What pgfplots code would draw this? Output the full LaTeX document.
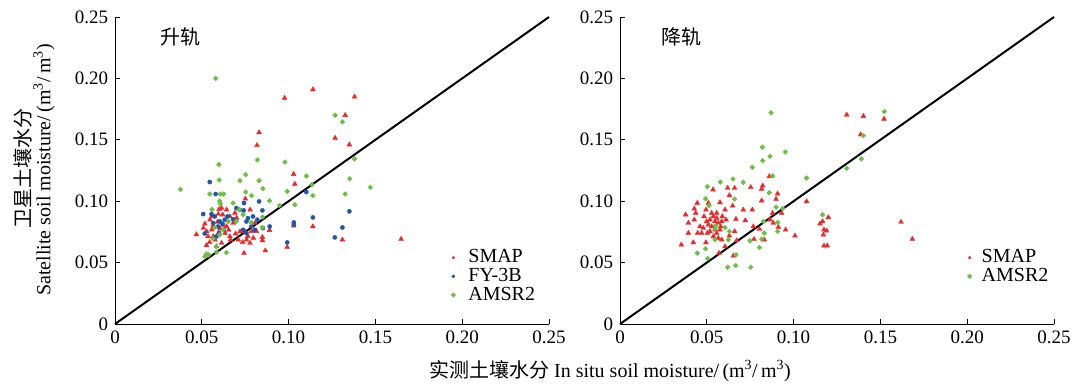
\documentclass[border=0pt]{standalone}
\usepackage{pgfplots}
\pgfplotsset{compat=1.18}
\usepackage{fontspec}
\setmainfont{Liberation Serif}
\newfontfamily\cjk{Noto Sans CJK SC}
\definecolor{cred}{RGB}{236,40,40}
\definecolor{cblue}{RGB}{32,86,168}
\definecolor{cgreen}{RGB}{110,190,70}

\pgfplotstableread{
x y
0.0977 0.184
0.114 0.191
0.138 0.185
0.1326 0.170
0.1268 0.1515
0.135 0.146
0.083 0.156
0.0818 0.1455
0.1029 0.122
0.1036 0.114
0.0751 0.102
0.103 0.080
0.114 0.0794
0.131 0.0686
0.1648 0.0691
0.0992 0.0626
0.0866 0.0598
0.089 0.0764
0.0849 0.0707
0.0849 0.068
0.0743 0.0577
0.0469 0.0729
0.0527 0.064
0.0518 0.0816
0.0547 0.0849
0.0557 0.0767
0.0536 0.0713
0.0576 0.0686
0.0595 0.074
0.0614 0.0944
0.062 0.089
0.0643 0.093
0.0662 0.0876
0.0681 0.0822
0.0643 0.0794
0.0634 0.074
0.0662 0.0713
0.0614 0.0659
0.0585 0.0631
0.071 0.0686
0.072 0.0753
0.0758 0.0686
0.0749 0.0753
0.0778 0.0659
0.0797 0.07
0.0557 0.0876
0.0509 0.0781
0.0528 0.0753
0.0566 0.0713
0.0691 0.0904
0.0701 0.0863
0.0778 0.093
0.0806 0.0822
0.0565 0.080
0.059 0.083
0.0605 0.0775
0.0625 0.0805
0.0665 0.0685
0.0735 0.0665
0.0765 0.0715
0.0695 0.0735
0.0545 0.0665
0.0595 0.0895
0.0785 0.0755
0.0815 0.0755
0.060 0.0935
0.0655 0.0765
}\ascsmap

\pgfplotstableread{
x y
0.0546 0.1156
0.058 0.1058
0.0508 0.0895
0.0517 0.0737
0.0556 0.0895
0.0575 0.0876
0.0603 0.0835
0.0619 0.0816
0.0648 0.0876
0.068 0.0854
0.0699 0.0944
0.0718 0.093
0.0743 0.0985
0.0741 0.0925
0.0757 0.0835
0.0766 0.0862
0.0738 0.0767
0.0757 0.074
0.0785 0.0794
0.0805 0.0767
0.082 0.0849
0.083 0.0998
0.0849 0.0925
0.0852 0.0781
0.0891 0.0794
0.0992 0.0664
0.103 0.0827
0.103 0.0808
0.1102 0.1075
0.114 0.0868
0.1266 0.0705
0.131 0.0786
0.135 0.0917
0.0594 0.0794
0.060 0.074
0.0565 0.0822
0.0626 0.0767
0.0584 0.0713
0.0795 0.0876
0.0632 0.0849
}\ascfy

\pgfplotstableread{
x y
0.058 0.200
0.0377 0.1096
0.0598 0.1298
0.060 0.1172
0.0546 0.1058
0.0607 0.1058
0.0626 0.1058
0.0603 0.1001
0.0607 0.0979
0.0559 0.0933
0.068 0.0985
0.072 0.1167
0.0753 0.1216
0.0753 0.1075
0.0787 0.1045
0.082 0.1336
0.083 0.1167
0.0852 0.1102
0.089 0.1004
0.0979 0.1319
0.0992 0.108
0.1036 0.0971
0.1102 0.1205
0.1134 0.1134
0.114 0.1045
0.1268 0.170
0.131 0.1646
0.138 0.1344
0.1352 0.1183
0.1326 0.1058
0.1471 0.1113
0.0948 0.0966
0.0715 0.093
0.0699 0.0835
0.0653 0.0835
0.0785 0.0827
0.0851 0.0871
0.0849 0.0786
0.0623 0.0767
0.0575 0.0786
0.0603 0.0726
0.0565 0.0694
0.0584 0.0631
0.0527 0.0569
0.0517 0.055
0.054 0.0563
0.0642 0.0582
0.0584 0.0585
0.0738 0.089
}\ascamsr

\pgfplotstableread{
x y
0.1306 0.1703
0.1402 0.1692
0.1521 0.167
0.1386 0.1542
0.1619 0.083
0.1684 0.0691
0.1075 0.0998
0.1008 0.0718
0.0954 0.0767
0.120 0.0868
0.1152 0.0816
0.1167 0.0835
0.1175 0.0767
0.1190 0.0759
0.1171 0.0726
0.1175 0.0637
0.1194 0.0637
0.086 0.1202
0.0822 0.1126
0.0816 0.1099
0.0753 0.1113
0.062 0.1107
0.066 0.1107
0.0536 0.1094
0.063 0.1047
0.0908 0.1061
0.0899 0.1017
0.0816 0.1004
0.0931 0.0903
0.0879 0.0903
0.0864 0.0849
0.0883 0.0822
0.0912 0.0789
0.0803 0.0773
0.0768 0.0794
0.0772 0.0691
0.0831 0.0686
0.0762 0.093
0.071 0.093
0.0722 0.0843
0.0668 0.0854
0.066 0.0754
0.0672 0.068
0.0653 0.0555
0.057 0.0577
0.0353 0.0645
0.0378 0.089
0.0394 0.0822
0.0428 0.0849
0.0428 0.0938
0.0445 0.0985
0.0436 0.0903
0.0447 0.074
0.0394 0.074
0.0422 0.0664
0.0461 0.0794
0.0484 0.0876
0.0495 0.093
0.0509 0.0985
0.0503 0.074
0.0495 0.0664
0.0576 0.099
0.0605 0.093
0.0589 0.0876
0.0611 0.0849
0.0586 0.0686
0.0605 0.0631
0.063 0.0718
0.0649 0.0963
0.0518 0.0849
0.0538 0.0876
0.0547 0.0835
0.0557 0.0862
0.0566 0.0822
0.0528 0.0794
0.0547 0.0767
0.0557 0.074
0.0576 0.0767
0.0518 0.0754
0.0509 0.0808
0.0538 0.0713
0.0566 0.0699
0.0586 0.0835
0.0499 0.0835
0.0528 0.0903
0.048 0.0781
0.047 0.074
0.0557 0.0903
0.058 0.0794
}\dessmap

\pgfplotstableread{
x y
0.087 0.172
0.1523 0.173
0.1402 0.1534
0.139 0.1344
0.1306 0.1268
0.082 0.1439
0.0864 0.1366
0.0822 0.133
0.0952 0.1401
0.0762 0.1276
0.0879 0.1205
0.1075 0.1189
0.0503 0.1118
0.0578 0.1156
0.0651 0.1181
0.071 0.1153
0.086 0.1069
0.0493 0.102
0.066 0.1017
0.0513 0.0963
0.0899 0.0952
0.1167 0.089
0.0908 0.0827
0.0826 0.0835
0.0551 0.0802
0.0547 0.0775
0.0605 0.0786
0.063 0.0754
0.0831 0.074
0.0908 0.0754
0.0547 0.0686
0.0624 0.0686
0.0749 0.0677
0.0816 0.0691
0.0493 0.0612
0.0803 0.0623
0.0445 0.0577
0.0668 0.0563
0.0505 0.0533
0.062 0.0462
0.0666 0.0476
0.0753 0.0462
0.0937 0.0941
}\desamsr

\pgfplotsset{
  sm/.style={only marks, mark=triangle*, mark size=2.8pt, color=cred},
  fy/.style={only marks, mark=*, mark size=2.1pt, color=cblue},
  am/.style={only marks, mark=square*, mark size=1.7pt, color=cgreen, mark options={rotate=45}},
  panel/.style={
    width=434pt, height=307pt, scale only axis,
    xmin=0, xmax=0.25, ymin=0, ymax=0.25,
    axis lines*=left, axis line style={line width=0.8pt, -},
    tick align=inside, major tick length=5pt,
    tick style={line width=0.8pt, black},
    xtick={0,0.05,0.10,0.15,0.20,0.25},
    ytick={0,0.05,0.10,0.15,0.20,0.25},
    xticklabels={0,0.05,0.10,0.15,0.20,0.25},
    yticklabels={0,0.05,0.10,0.15,0.20,0.25},
    tick label style={font=\fontsize{19}{22}\selectfont},
    clip=false,
    legend cell align=left,
  },
}

\begin{document}%
\fontsize{20}{23}\selectfont%
\begin{tikzpicture}[x=1pt,y=1pt]
\path[use as bounding box] (0,0) rectangle (1073,388);
\begin{axis}[panel, at={(115pt,64pt)}, anchor=south west,
  legend style={at={(0.774,0.25)}, anchor=north west, draw=none, fill=none,
    inner sep=0pt, row sep=-1.5pt, font=\fontsize{20}{23}\selectfont},
  legend image code/.code={\path[draw=none,fill=none] (-2pt,0pt) -- (13pt,0pt); \draw[#1,mark size=1.6pt] plot coordinates {(0pt,0pt)};},
  ]
\addplot[sm] table {\ascsmap};
\addplot[fy] table {\ascfy};
\addplot[am] table {\ascamsr};
\addplot[black, line width=2pt, forget plot] coordinates {(0,0) (0.25,0.25)};
\legend{SMAP,FY-3B,AMSR2}
\node[anchor=west, font=\cjk\fontsize{20}{23}\selectfont] at (axis cs:0.022,0.234) {升轨};
\end{axis}
\begin{axis}[panel, at={(620pt,64pt)}, anchor=south west,
  legend style={at={(0.80,0.25)}, anchor=north west, draw=none, fill=none,
    inner sep=0pt, row sep=-1.5pt, font=\fontsize{20}{23}\selectfont},
  legend image code/.code={\path[draw=none,fill=none] (-2pt,0pt) -- (10pt,0pt); \draw[#1,mark size=1.6pt] plot coordinates {(0pt,0pt)};},
  ]
\addplot[sm] table {\dessmap};
\addplot[am] table {\desamsr};
\addplot[black, line width=2pt, forget plot] coordinates {(0,0) (0.25,0.25)};
\legend{SMAP,AMSR2}
\node[anchor=west, font=\cjk\fontsize{20}{23}\selectfont] at (axis cs:0.02,0.234) {降轨};
\end{axis}
\node[rotate=90, font=\cjk\fontsize{20}{23}\selectfont] at (23,219) {卫星土壤水分};
\node[rotate=90] at (44,218) {Satellite soil moisture/\,(m\textsuperscript{3}/\,m\textsuperscript{3})};
\node at (610,17) {{\cjk 实测土壤水分} In situ soil moisture/\,(m\textsuperscript{3}/\,m\textsuperscript{3})};
\end{tikzpicture}%
\end{document}
